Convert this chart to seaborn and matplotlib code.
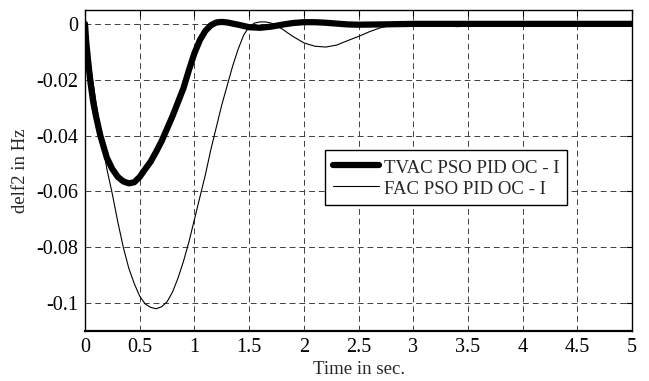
import matplotlib
matplotlib.use("Agg")
import matplotlib.pyplot as plt
import seaborn as sns
import pandas as pd

# values
t_tvac = [0, 0.01, 0.025, 0.05, 0.075, 0.1, 0.14, 0.2, 0.25, 0.3, 0.35, 0.4, 0.45, 0.5,
          0.55, 0.6, 0.65, 0.7, 0.75, 0.8, 0.85, 0.9, 0.95, 1.0, 1.05, 1.1, 1.15, 1.2,
          1.25, 1.3, 1.4, 1.5, 1.6, 1.7, 1.8, 1.9, 2.0, 2.1, 2.2, 2.3, 2.4, 2.5, 2.7,
          3.0, 4.0, 5.0]
delf2_tvac = [0, -0.006, -0.012, -0.021, -0.028, -0.033, -0.040, -0.048, -0.052, -0.0548,
              -0.0564, -0.0571, -0.0567, -0.0548, -0.052, -0.0493, -0.0458, -0.042, -0.0375,
              -0.033, -0.028, -0.023, -0.0165, -0.0105, -0.0058, -0.0025, -0.0005, 0.0005,
              0.0007, 0.0005, -0.0003, -0.0012, -0.0014, -0.001, -0.0003, 0.0003, 0.0006,
              0.0006, 0.0004, 0.0001, -0.0002, -0.0003, -0.0002, 0, 0, 0]

t_fac = [0, 0.05, 0.1, 0.15, 0.2, 0.25, 0.3, 0.35, 0.4, 0.45, 0.5, 0.55, 0.6, 0.65, 0.7,
         0.75, 0.8, 0.85, 0.9, 0.95, 1.0, 1.05, 1.1, 1.15, 1.2, 1.25, 1.3, 1.35, 1.4, 1.45,
         1.5, 1.55, 1.6, 1.65, 1.7, 1.8, 1.9, 2.0, 2.1, 2.2, 2.3, 2.4, 2.5, 2.6, 2.7, 2.8,
         3.0, 3.2, 3.4, 3.6, 3.8, 5.0]
delf2_fac = [0, -0.015, -0.028, -0.041, -0.052, -0.061, -0.071, -0.080, -0.0875, -0.093,
             -0.0975, -0.1003, -0.1015, -0.102, -0.1013, -0.0995, -0.096, -0.091, -0.085,
             -0.078, -0.070, -0.062, -0.054, -0.045, -0.037, -0.029, -0.022, -0.015, -0.009,
             -0.004, -0.001, 0.0003, 0.0007, 0.0007, 0.0003, -0.0018, -0.0045, -0.0068,
             -0.008, -0.0083, -0.0076, -0.006, -0.0045, -0.0028, -0.0014, -0.0005, 0,
             -0.0003, -0.001, -0.0005, 0, 0]

labels = ["TVAC PSO PID OC - I", "FAC PSO PID OC - I"]
x_ticks = [0, 0.5, 1, 1.5, 2, 2.5, 3, 3.5, 4, 4.5, 5]
y_ticks = [0, -0.02, -0.04, -0.06, -0.08, -0.1]
y_tick_labels = ["0", "-0.02", "-0.04", "-0.06", "-0.08", "-0.1"]

df_tvac = pd.DataFrame({"t": t_tvac, "delf2": delf2_tvac})
df_fac = pd.DataFrame({"t": t_fac, "delf2": delf2_fac})

sns.set_style("white")
plt.rcParams["font.family"] = ["Liberation Serif", "DejaVu Serif"]
plt.rcParams["font.size"] = 13.5

fig = plt.figure(figsize=(6.49, 3.81), dpi=100)
ax = fig.add_axes([0.131, 0.131, 0.843, 0.843])

sns.lineplot(data=df_tvac, x="t", y="delf2", ax=ax, color="black", lw=4.5,
             label=labels[0], sort=False)
sns.lineplot(data=df_fac, x="t", y="delf2", ax=ax, color="black", lw=0.8,
             label=labels[1], sort=False)

ax.set_xlim(0, 5)
ax.set_ylim(-0.11, 0.005)
ax.set_xticks(x_ticks)
ax.set_xticklabels([f"{v:g}" for v in x_ticks])
ax.set_yticks(y_ticks)
ax.set_yticklabels(y_tick_labels)
ax.tick_params(direction="in", top=True, right=True, length=4, width=0.8,
               labelsize=14.5, colors="black", pad=5)
ax.grid(True, ls=(0, (6, 4)), color="#404040", lw=0.7)
for s in ax.spines.values():
    s.set_color("black")
    s.set_linewidth(1.0)
ax.spines["bottom"].set_linewidth(1.6)

ax.set_xlabel("Time in sec.", fontsize=13.5, labelpad=3)
ax.set_ylabel("delf2 in Hz", fontsize=13.5, labelpad=5)

leg = ax.legend(loc="center", bbox_to_anchor=(0.66, 0.478), fontsize=13.5,
                handlelength=2.45, handletextpad=0.27, borderpad=0.4,
                handleheight=1.15, labelspacing=0.05, fancybox=False, framealpha=1)
leg.get_frame().set_edgecolor("black")
leg.get_frame().set_linewidth(1.0)

fig.savefig("out.png", dpi=100)
